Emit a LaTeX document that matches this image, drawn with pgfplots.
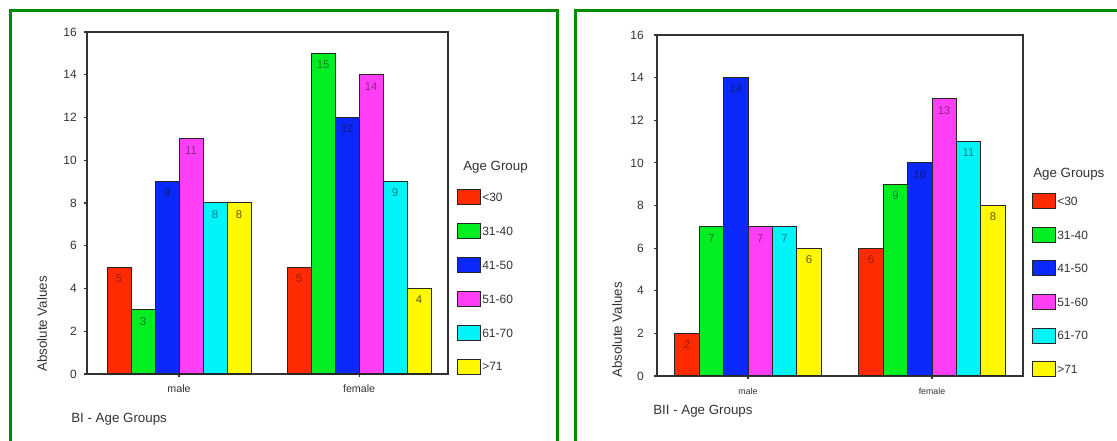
\documentclass[border=0pt]{standalone}
\usepackage{fontspec}
\setmainfont{Liberation Sans}
\usepackage{pgfplots}
\pgfplotsset{compat=1.18}

\definecolor{frame}{HTML}{008C00}
\definecolor{cRed}{HTML}{FF2A00}
\definecolor{cGreen}{HTML}{00EE22}
\definecolor{cBlue}{HTML}{0A28FA}
\definecolor{cMag}{HTML}{FF3EF5}
\definecolor{cCyan}{HTML}{00F4F8}
\definecolor{cYel}{HTML}{FFF800}
\definecolor{tRed}{HTML}{9A1A10}
\definecolor{tGreen}{HTML}{157A25}
\definecolor{tBlue}{HTML}{0A1A80}
\definecolor{tMag}{HTML}{8A2A90}
\definecolor{tCyan}{HTML}{107F86}
\definecolor{tYel}{HTML}{5F5A10}
\definecolor{ink}{HTML}{333333}
\definecolor{edge}{HTML}{262626}

\pgfplotsset{
  agebars/.style={
    scale only axis,
    anchor=south west,
    ybar=0pt,
    ymin=0, ymax=16,
    ytick={0,2,...,16},
    xtick={0,1},
    xticklabels={male,female},
    tick pos=left,
    tick align=outside,
    major tick length=2.25pt,
    axis line style={draw=ink, line width=0.8pt},
    every tick/.style={draw=ink, line width=0.8pt},
    /pgf/number format/assume math mode=true,
    yticklabel style={font=\fontsize{9}{9}\selectfont, text=ink, inner sep=0pt, anchor=east},
    xticklabel style={text=ink, inner sep=0pt, anchor=center, yshift=-9pt},
    nodes near coords,
    every node near coord/.append style={font=\fontsize{8.5}{8.5}\selectfont, anchor=center, yshift=-8.6pt, inner sep=0pt},
    legend columns=1,
    legend cell align=left,
    legend style={draw=none, fill=none, inner sep=0pt, anchor=north west,
      column sep=0.75pt, font=\fontsize{9}{9}\selectfont, text=ink,
      nodes={inner sep=0pt, anchor=base west}},
    legend image code/.code={\draw[##1] (0pt,-2.4pt) rectangle (17.25pt,8.85pt);},
    clip=false,
  },
  bRed/.style={fill=cRed, draw=edge, line width=0.75pt, every node near coord/.append style={text=tRed}},
  bGreen/.style={fill=cGreen, draw=edge, line width=0.75pt, every node near coord/.append style={text=tGreen}},
  bBlue/.style={fill=cBlue, draw=edge, line width=0.75pt, every node near coord/.append style={text=tBlue}},
  bMag/.style={fill=cMag, draw=edge, line width=0.75pt, every node near coord/.append style={text=tMag}},
  bCyan/.style={fill=cCyan, draw=edge, line width=0.75pt, every node near coord/.append style={text=tCyan}},
  bYel/.style={fill=cYel, draw=edge, line width=0.75pt, every node near coord/.append style={text=tYel}},
}

\begin{document}
\begin{tikzpicture}
  \path[use as bounding box, fill=white] (0pt,0pt) rectangle (837.75pt,-330.75pt);
  \clip (0pt,0pt) rectangle (837.75pt,-330.75pt);

  % panel frames
  \draw[frame, line width=2.25pt] (7.875pt,-7.875pt) rectangle (417.9pt,-350pt);
  \draw[frame, line width=2.25pt] (431.6pt,-7.875pt) rectangle (850pt,-350pt);

  % ---- BI ----
  \begin{axis}[agebars,
      at={(65.25pt,-280.5pt)},
      width=270.75pt, height=256.5pt,
      xmin=-0.511, xmax=1.494,
      bar width=18pt,
      yticklabel style={xshift=-5.25pt},
      xticklabel style={font=\fontsize{8}{8}\selectfont},
      legend style={at={(axis description cs:1.0249,0.541)}, row sep=13.4pt},
    ]
    \addplot[bRed]   coordinates {(0,5)  (1,5)};
    \addplot[bGreen] coordinates {(0,3)  (1,15)};
    \addplot[bBlue]  coordinates {(0,9)  (1,12)};
    \addplot[bMag]   coordinates {(0,11) (1,14)};
    \addplot[bCyan]  coordinates {(0,8)  (1,9)};
    \addplot[bYel]   coordinates {(0,8)  (1,4)};
    \legend{<30,31-40,41-50,51-60,61-70,>71}
  \end{axis}
  \node[rotate=90, text=ink, font=\fontsize{10}{10}\selectfont] at (31.5pt,-243pt) {Absolute Values};
  \node[anchor=west, inner sep=0pt, text=ink, font=\fontsize{10}{10}\selectfont] at (53.25pt,-314.25pt) {BI - Age Groups};
  \node[anchor=west, inner sep=0pt, text=ink, font=\fontsize{10}{10}\selectfont] at (347.25pt,-125.25pt) {Age Group};

  % ---- BII ----
  \begin{axis}[agebars,
      at={(492.75pt,-282pt)},
      width=274.5pt, height=255.75pt,
      xmin=-0.4946, xmax=1.4946,
      bar width=18.3pt,
      yticklabel style={xshift=-7.5pt},
      xticklabel style={font=\fontsize{6.6}{6.6}\selectfont},
      legend style={at={(axis description cs:1.0246,0.537)}, row sep=13.2pt},
    ]
    \addplot[bRed]   coordinates {(0,2)  (1,6)};
    \addplot[bGreen] coordinates {(0,7)  (1,9)};
    \addplot[bBlue]  coordinates {(0,14) (1,10)};
    \addplot[bMag]   coordinates {(0,7)  (1,13)};
    \addplot[bCyan]  coordinates {(0,7)  (1,11)};
    \addplot[bYel]   coordinates {(0,6)  (1,8)};
    \legend{<30,31-40,41-50,51-60,61-70,>71}
  \end{axis}
  \node[rotate=90, text=ink, font=\fontsize{10}{10}\selectfont] at (462.75pt,-247.5pt) {Absolute Values};
  \node[anchor=west, inner sep=0pt, text=ink, font=\fontsize{10}{10}\selectfont] at (489.75pt,-308.25pt) {BII - Age Groups};
  \node[anchor=west, inner sep=0pt, text=ink, font=\fontsize{10}{10}\selectfont] at (774.75pt,-130.5pt) {Age Groups};
\end{tikzpicture}
\end{document}
